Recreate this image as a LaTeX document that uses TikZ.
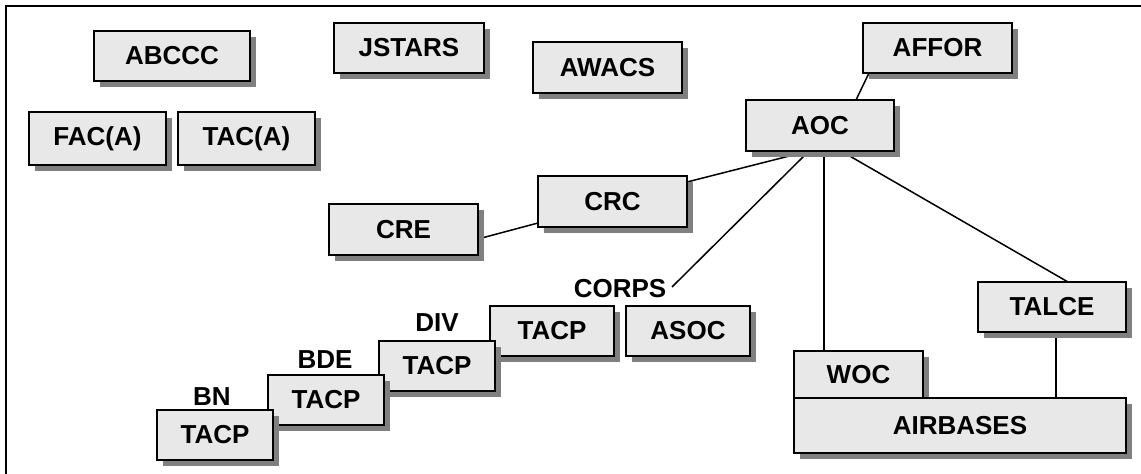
\documentclass[tikz,border=0pt]{standalone}
\usepackage{fontspec}
\setmainfont{Liberation Sans}
\usetikzlibrary{shadows,calc}
\definecolor{boxfill}{HTML}{E8E8E8}
\definecolor{shadowgray}{HTML}{808080}
\begin{document}
\begin{tikzpicture}[x=1pt,y=-1pt,
  unit/.style={draw=black, line width=2pt, fill=boxfill, inner sep=0pt,
    minimum width=#1, font=\fontsize{26}{30}\selectfont\bfseries,
    drop shadow={shadow xshift=6pt, shadow yshift=-6pt, fill=shadowgray, opacity=1}},
  unit/.default=149pt,
  lvl/.style={inner sep=2pt, font=\fontsize{26}{30}\selectfont\bfseries},
  link/.style={line width=1.5pt}]
\useasboundingbox (0,0) rectangle (1141,474);
\clip (0,0) rectangle (1141,474);
\draw[line width=2pt] (6,6) rectangle (1160,490);

% connector anchors (drawn first so that boxes and shadows cover the ends)
\coordinate (aocS) at (820,151);
\coordinate (crcW) at (538,223);
\coordinate (crcE) at (687,182);
\coordinate (creE) at (478,239);
\coordinate (affS) at (869,73);
\coordinate (aocN) at (856,100);
\coordinate (corpsEnd) at (672,287);
\coordinate (wocN) at (824,351);
\coordinate (talN) at (1068,282);
\coordinate (talS) at (1056,332);
\coordinate (airN) at (1056,398);

\draw[link] (affS) -- (aocN);
\draw[link] ($(aocS)+(-11,0)$) -- (crcE);
\draw[link] ($(aocS)+(-11,0)$) -- (corpsEnd);
\draw[link] (wocN |- aocS) -- (wocN);
\draw[link] ($(aocS)+(21,0)$) -- (talN);
\draw[link] (talS) -- (airN);
\draw[link] (creE) -- (crcW);

% airborne elements
\node[unit=156pt, minimum height=50pt] (abccc) at (172,56) {ABCCC};
\node[unit=150pt, minimum height=50pt] (jstars) at (409,48) {JSTARS};
\node[unit=149pt, minimum height=51pt] (awacs) at (607.5,67.5) {AWACS};
\node[unit=137pt, minimum height=53pt] (faca) at (97.5,138.5) {FAC(A)};
\node[unit=137pt, minimum height=53pt] (taca) at (246.5,138.5) {TAC(A)};

% air component
\node[unit=149pt, minimum height=50pt] (affor) at (937.5,48) {AFFOR};
\node[unit=148pt, minimum height=51pt] (aoc) at (820,125.5) {AOC};
\node[unit=149pt, minimum height=51pt] (crc) at (612.5,201.5) {CRC};
\node[unit=149pt, minimum height=51pt] (cre) at (403.5,229.5) {CRE};

% ground echelons
\node[unit=124pt, minimum height=50pt] (tacpC) at (552,331) {TACP};
\node[unit=124pt, minimum height=50pt] (asoc) at (688,331) {ASOC};
\node[unit=116pt, minimum height=50pt] (tacpD) at (437,366) {TACP};
\node[unit=116pt, minimum height=50pt] (tacpB) at (326,400) {TACP};
\node[unit=116pt, minimum height=50pt] (tacpN) at (215,435) {TACP};

\node[lvl] (corps) at (620,289) {CORPS};
\node[lvl] (div) at (437,323) {DIV};
\node[lvl] (bde) at (325,360) {BDE};
\node[lvl] (bn) at (212,397) {BN};

% airfield elements
\node[unit=148pt, minimum height=50pt] (talce) at (1052,307) {TALCE};
\node[unit=129pt, minimum height=47pt] (woc) at (858.5,374.5) {WOC};
\node[unit=332pt, minimum height=55pt] (airbases) at (960,425.5) {AIRBASES};
\end{tikzpicture}
\end{document}
